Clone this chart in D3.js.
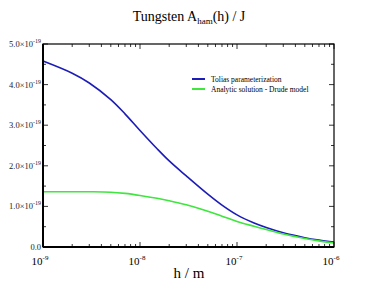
<!DOCTYPE html>
<html>
<head>
<meta charset="utf-8">
<script src="https://cdn.jsdelivr.net/npm/d3@7"></script>
<style>
  body { margin: 0; background: #fff; }
</style>
</head>
<body>
<div id="chart"></div>
<script>
// h values (m) and Hamaker constant (x1e-19 J)
var h_values = [1e-9, 2e-9, 3e-9, 5e-9, 7e-9, 1e-8, 1.5e-8, 2e-8, 3e-8, 5e-8, 7e-8, 1e-7, 1.5e-7, 2e-7, 3e-7, 5e-7, 7e-7, 1e-6]
var tolias = [4.58, 4.28, 4.04, 3.63, 3.28, 2.87, 2.42, 2.12, 1.75, 1.30, 1.03, 0.79, 0.59, 0.48, 0.35, 0.23, 0.17, 0.12]
var drude = [1.36, 1.36, 1.36, 1.35, 1.32, 1.27, 1.20, 1.14, 1.04, 0.88, 0.76, 0.63, 0.51, 0.43, 0.32, 0.21, 0.15, 0.10]

var series_names = ["Tolias parameterization", "Analytic solution - Drude model"]
var series_colours = ["#1c1cb8", "#3ee63e"]

var y_ticks = [0, 1, 2, 3, 4, 5]
var x_ticks = [1e-9, 1e-8, 1e-7, 1e-6]
var x_exps = ["-9", "-8", "-7", "-6"]

var margin = {top: 44, right: 42, bottom: 44, left: 43},
    width = 376 - margin.left - margin.right,
    height = 291 - margin.top - margin.bottom;

var svg = d3.select("#chart").append("svg")
    .attr("width", 376)
    .attr("height", 291)
    .attr("font-family", "'Liberation Serif', 'DejaVu Serif', serif");

var g = svg.append("g")
    .attr("transform", "translate(" + margin.left + "," + margin.top + ")");

var x = d3.scaleLog().domain([1e-9, 1e-6]).range([0, width]);
var y = d3.scaleLinear().domain([0, 5]).range([height, 0]);

// title
var title = svg.append("text")
    .attr("x", 189)
    .attr("y", 21)
    .attr("text-anchor", "middle")
    .attr("font-size", 14);
title.append("tspan").text("Tungsten A");
title.append("tspan").attr("font-size", 9).attr("dy", 3).text("ham");
title.append("tspan").attr("dy", -3).text("(h) / J");

// curves
var line = d3.line()
    .x(function(d, i){ return x(h_values[i]); })
    .y(function(d){ return y(d); })
    .curve(d3.curveCatmullRom);

[tolias, drude].forEach(function(s, i){
    g.append("path")
        .datum(s)
        .attr("d", line)
        .attr("fill", "none")
        .attr("stroke", series_colours[i])
        .attr("stroke-width", 1.6);
});

// frame
g.append("rect")
    .attr("width", width)
    .attr("height", height)
    .attr("fill", "none")
    .attr("stroke", "#000")
    .attr("stroke-width", 1.2);
g.append("line").attr("x1", 0).attr("x2", width).attr("y1", height).attr("y2", height)
    .attr("stroke", "#000").attr("stroke-width", 2);
g.append("line").attr("x1", 0).attr("x2", 0).attr("y1", 0).attr("y2", height)
    .attr("stroke", "#000").attr("stroke-width", 2);

// y ticks (inward, both sides)
var y_minor = d3.range(0.5, 5, 1);
y_ticks.concat(y_minor).forEach(function(v){
    var len = (v % 1 == 0) ? 5 : 3;
    g.append("line").attr("x1", 0).attr("x2", len).attr("y1", y(v)).attr("y2", y(v))
        .attr("stroke", "#000").attr("stroke-width", 0.8);
    g.append("line").attr("x1", width).attr("x2", width - len).attr("y1", y(v)).attr("y2", y(v))
        .attr("stroke", "#000").attr("stroke-width", 0.8);
});

// x ticks (inward, top and bottom)
var x_minor = [];
for (var e = -9; e < -6; e++)
    for (var m = 2; m < 10; m++) x_minor.push(m * Math.pow(10, e));
x_ticks.concat(x_minor).forEach(function(v, i){
    var len = (i < x_ticks.length) ? 5 : 3;
    g.append("line").attr("x1", x(v)).attr("x2", x(v)).attr("y1", height).attr("y2", height - len)
        .attr("stroke", "#000").attr("stroke-width", 0.8);
    g.append("line").attr("x1", x(v)).attr("x2", x(v)).attr("y1", 0).attr("y2", len)
        .attr("stroke", "#000").attr("stroke-width", 0.8);
});

// y labels
y_ticks.forEach(function(v){
    var t = g.append("text")
        .attr("x", -2)
        .attr("y", y(v) + 3)
        .attr("text-anchor", "end")
        .attr("font-size", 8.5)
        .attr("fill", "#222");
    if (v == 0) {
        t.text("0.0");
    } else {
        t.append("tspan").text(v.toFixed(1) + "\u00d710");
        t.append("tspan").attr("font-size", 6).attr("dy", -4).text("-19");
    }
});

// x labels
x_ticks.forEach(function(v, i){
    var t = g.append("text")
        .attr("x", x(v) - 3)
        .attr("y", height + 18)
        .attr("text-anchor", "middle")
        .attr("font-size", 11);
    t.append("tspan").text("10");
    t.append("tspan").attr("font-size", 7).attr("dy", -5).text(x_exps[i]);
});

svg.append("text")
    .attr("x", 189)
    .attr("y", 278)
    .attr("text-anchor", "middle")
    .attr("font-size", 15)
    .text("h / m");

// legend
series_names.forEach(function(n, i){
    svg.append("line")
        .attr("x1", 192).attr("x2", 205)
        .attr("y1", 79 + i * 10).attr("y2", 79 + i * 10)
        .attr("stroke", series_colours[i])
        .attr("stroke-width", 2);
    svg.append("text")
        .attr("x", 211)
        .attr("y", 81.5 + i * 10)
        .attr("font-size", 7.5)
        .text(n);
});
</script>
</body>
</html>
